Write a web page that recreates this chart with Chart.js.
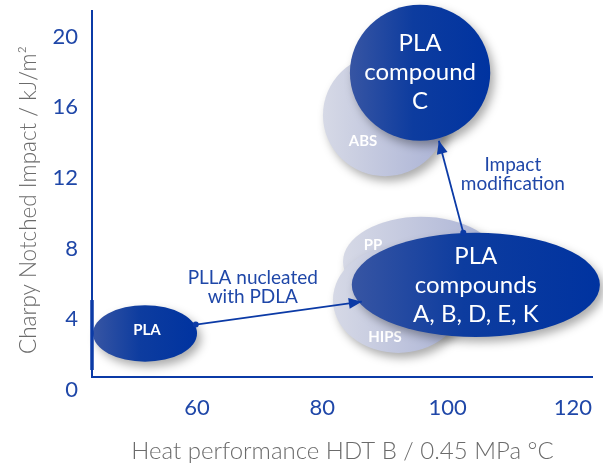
<!DOCTYPE html>
<html>
<head>
<meta charset="utf-8">
<script src="https://cdn.jsdelivr.net/npm/chart.js@4.4.0/dist/chart.umd.min.js"></script>
<style>
  html, body { margin: 0; padding: 0; background: #fff; }
</style>
</head>
<body>
<canvas id="grafico" width="603" height="468"></canvas>
<script>
// ticks
const xTicks = [60, 80, 100, 120];
const yTicks = [0, 4, 8, 12, 16, 20];

// materiales de referencia (rango HDT / rango impacto)
const refNombres = ["ABS", "PP", "HIPS"];
const refHdtMin = [80.1, 83.3, 81.7];
const refHdtMax = [99.9, 108.2, 102.5];
const refImpMin = [12.1, 4.7, 2.1];
const refImpMax = [19.0, 9.8, 8.1];
const refEtiquetaX = [86.5, 88.1, 90.0];
const refEtiquetaY = [14.1, 8.2, 3.0];

// PLA
const plaNombres = [["PLA", "compound", "C"], ["PLA", "compounds", "A, B, D, E, K"], ["PLA"]];
const plaHdtMin = [84.4, 84.7, 43.4];
const plaHdtMax = [106.8, 124.3, 60.0];
const plaImpMin = [14.1, 3.0, 1.6];
const plaImpMax = [21.8, 8.9, 4.8];

// flechas
const flechaNucleadoX = [59.8, 86.3];
const flechaNucleadoY = [3.7, 5.0];
const flechaImpactoX = [102.5, 98.6];
const flechaImpactoY = [8.9, 14.1];

// notas
const notaTextos = [["PLLA nucleated", "with PDLA"], ["Impact", "modification"]];
const notaX = [68.9, 110.4];
const notaY = [5.8, 12.2];

// ejes
const ejeXMin = 43.24;
const ejeXMax = 123.2;
const ejeYMax = 21.5;
const ejeCruce = 0.74;
const ejeGruesoDesde = 1.13;
const ejeGruesoHasta = 5.09;

const AZUL = "#0b3aa6";
const AZUL_TEXTO = "#1f47a8";
const GRIS_TEXTO = "#6b6b6b";

Chart.defaults.font.family = "Lato";

function dibujarElipse(ctx, sx, sy, x0, x1, y0, y1, tipo) {
  let a = sx.getPixelForValue(x0);
  let b = sx.getPixelForValue(x1);
  let c = sy.getPixelForValue(y1);
  let d = sy.getPixelForValue(y0);
  let cx = (a + b) / 2, cy = (c + d) / 2;
  let rx = (b - a) / 2, ry = (d - c) / 2;

  let grad = ctx.createLinearGradient(a, 0, b, 0);
  if (tipo === "gris") {
    grad.addColorStop(0, "#d6d9e6");
    grad.addColorStop(1, "#aab2d5");
  } else {
    grad.addColorStop(0, "#3755a3");
    grad.addColorStop(0.45, "#0d3c9f");
    grad.addColorStop(1, "#0033a0");
  }
  ctx.save();
  ctx.shadowColor = "rgba(0,0,0,0.33)";
  ctx.shadowBlur = 10;
  ctx.shadowOffsetX = 4;
  ctx.shadowOffsetY = 5;
  ctx.beginPath();
  ctx.ellipse(cx, cy, rx, ry, 0, 0, Math.PI * 2);
  ctx.fillStyle = grad;
  ctx.fill();
  ctx.restore();
  return { cx: cx, cy: cy };
}

function punta(ctx, x0, y0, x1, y1) {
  let ang = Math.atan2(y1 - y0, x1 - x0);
  let largo = 13, ancho = 5.5;
  ctx.save();
  ctx.translate(x1, y1);
  ctx.rotate(ang);
  ctx.beginPath();
  ctx.moveTo(0, 0);
  ctx.lineTo(-largo, -ancho);
  ctx.lineTo(-largo, ancho);
  ctx.closePath();
  ctx.fillStyle = AZUL;
  ctx.fill();
  ctx.restore();
}

const pluginBurbujas = {
  id: "burbujas",
  beforeDatasetsDraw(chart) {
    const ctx = chart.ctx;
    const sx = chart.scales.x, sy = chart.scales.y;

    refNombres.forEach(function (n, i) {
      dibujarElipse(ctx, sx, sy, refHdtMin[i], refHdtMax[i], refImpMin[i], refImpMax[i], "gris");
    });

    ctx.save();
    ctx.fillStyle = "#ffffff";
    ctx.font = "bold 15px Lato";
    ctx.textAlign = "center";
    ctx.textBaseline = "middle";
    refNombres.forEach(function (n, i) {
      ctx.fillText(n, sx.getPixelForValue(refEtiquetaX[i]), sy.getPixelForValue(refEtiquetaY[i]));
    });
    ctx.restore();

    plaNombres.forEach(function (lineas, i) {
      let c = dibujarElipse(ctx, sx, sy, plaHdtMin[i], plaHdtMax[i], plaImpMin[i], plaImpMax[i], "azul");
      ctx.save();
      ctx.fillStyle = "#ffffff";
      ctx.textAlign = "center";
      ctx.textBaseline = "middle";
      if (lineas.length === 1) {
        ctx.font = "bold 15px Lato";
        ctx.fillText(lineas[0], c.cx + 2, c.cy - 3);
      } else {
        ctx.font = "24px Lato";
        let alto = 29;
        lineas.forEach(function (t, k) {
          ctx.fillText(t, c.cx, c.cy + (k - (lineas.length - 1) / 2) * alto);
        });
      }
      ctx.restore();
    });
  },
  afterDatasetsDraw(chart) {
    const ctx = chart.ctx;
    const sx = chart.scales.x, sy = chart.scales.y;

    [[flechaNucleadoX, flechaNucleadoY], [flechaImpactoX, flechaImpactoY]].forEach(function (f) {
      punta(ctx,
        sx.getPixelForValue(f[0][0]), sy.getPixelForValue(f[1][0]),
        sx.getPixelForValue(f[0][1]), sy.getPixelForValue(f[1][1]));
    });

    ctx.save();
    ctx.fillStyle = AZUL_TEXTO;
    ctx.font = "19px Lato";
    ctx.textAlign = "center";
    ctx.textBaseline = "middle";
    notaTextos.forEach(function (lineas, i) {
      let px = sx.getPixelForValue(notaX[i]);
      let py = sy.getPixelForValue(notaY[i]);
      lineas.forEach(function (t, k) {
        ctx.fillText(t, px, py + (k - 0.5) * 18.5);
      });
    });
    ctx.restore();
  },
};

function lineaFlecha(xs, ys) {
  return {
    data: xs.map(function (v, i) { return { x: v, y: ys[i] }; }),
    showLine: true,
    borderColor: AZUL,
    borderWidth: 1.8,
    pointRadius: [3, 0],
    pointBackgroundColor: AZUL,
    pointBorderWidth: 0,
    clip: false,
  };
}

new Chart(document.getElementById("grafico"), {
  type: "scatter",
  data: {
    datasets: [
      {
        data: [
          { x: ejeXMin, y: ejeYMax },
          { x: ejeXMin, y: ejeCruce },
          { x: ejeXMax, y: ejeCruce },
        ],
        showLine: true,
        borderColor: AZUL,
        borderWidth: 2,
        pointRadius: 0,
        clip: false,
      },
      {
        data: [
          { x: ejeXMin, y: ejeGruesoDesde },
          { x: ejeXMin, y: ejeGruesoHasta },
        ],
        showLine: true,
        borderColor: AZUL,
        borderWidth: 3.5,
        pointRadius: 0,
        clip: false,
      },
      lineaFlecha(flechaNucleadoX, flechaNucleadoY),
      lineaFlecha(flechaImpactoX, flechaImpactoY),
    ],
  },
  options: {
    responsive: false,
    animation: false,
    devicePixelRatio: 1,
    layout: { padding: { top: 10, right: 10, bottom: 0, left: 0 } },
    plugins: {
      legend: { display: false },
      tooltip: { enabled: false },
    },
    scales: {
      x: {
        type: "linear",
        min: ejeXMin,
        max: ejeXMax,
        grid: { display: false, drawTicks: false },
        border: { display: false },
        afterBuildTicks: function (s) {
          s.ticks = xTicks.map(function (v) { return { value: v }; });
        },
        afterFit: function (s) {
          s.height = 78;
          s.paddingLeft = 0;
          s.paddingRight = 0;
        },
        ticks: {
          color: AZUL_TEXTO,
          font: { size: 22 },
          padding: 5,
          maxRotation: 0,
          autoSkip: false,
        },
        title: {
          display: true,
          text: "Heat performance HDT B / 0.45 MPa °C",
          color: GRIS_TEXTO,
          font: { size: 24, weight: "300" },
          padding: { top: 0, bottom: 2 },
        },
      },
      y: {
        type: "linear",
        min: 0,
        max: ejeYMax,
        grid: { display: false, drawTicks: false },
        border: { display: false },
        afterBuildTicks: function (s) {
          s.ticks = yTicks.map(function (v) { return { value: v }; });
        },
        afterFit: function (s) {
          s.width = 92;
          s.paddingTop = 0;
          s.paddingBottom = 0;
        },
        ticks: {
          color: AZUL_TEXTO,
          font: { size: 22 },
          padding: 14,
        },
        title: {
          display: true,
          text: "Charpy Notched Impact / kJ/m²",
          color: GRIS_TEXTO,
          font: { size: 22.5, weight: "300" },
          padding: { top: 15, bottom: 0 },
        },
      },
    },
  },
  plugins: [pluginBurbujas],
});
</script>
</body>
</html>
